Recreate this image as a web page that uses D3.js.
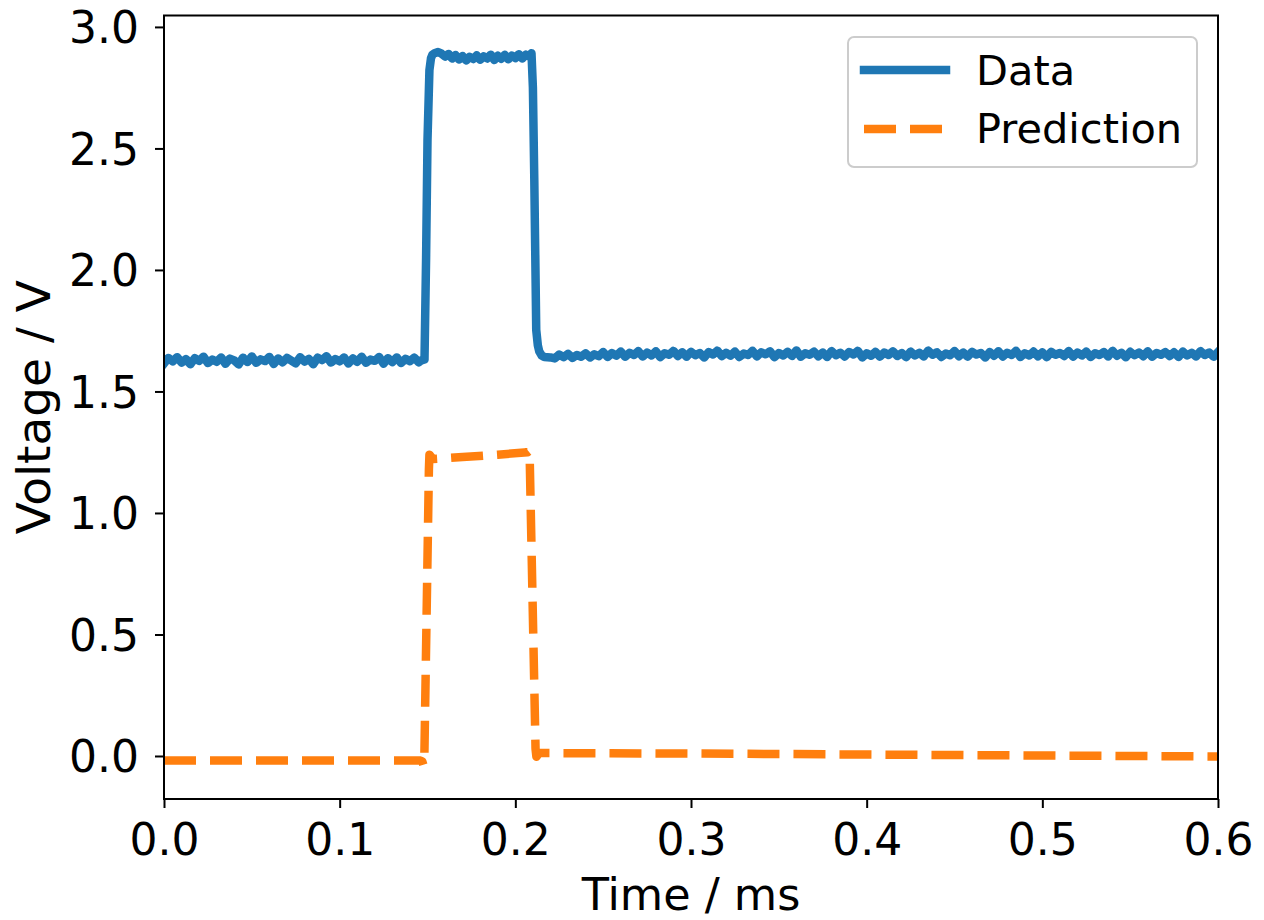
<!DOCTYPE html>
<html>
<head>
<meta charset="utf-8">
<script src="https://cdn.jsdelivr.net/npm/d3@7"></script>
<style>
  html, body { margin: 0; padding: 0; background: #fff; }
  svg { display: block; font-family: "DejaVu Sans", sans-serif; }
</style>
</head>
<body>
<svg id="chart" width="1264" height="920"></svg>
<script>
// Measured trace (time in ms, voltage in V)
const dataTime = [
  0, .0025, .005, .0075, .01, .0125, .015, .0175, .02, .0225, .025, .0275, .03, .0325, .035, .0375, .04, .0425,
  .045, .0475, .05, .0525, .055, .0575, .06, .0625, .065, .0675, .07, .0725, .075, .0775, .08, .0825, .085,
  .0875, .09, .0925, .095, .0975, .1, .1025, .105, .1075, .11, .1125, .115, .1175, .12, .1225, .125, .1275,
  .13, .1325, .135, .1375, .14, .1425, .145,
  .1465, .1483, .1492, .15, .1511, .152, .1528, .154,
  .156, .158, .16, .162, .164, .166, .168, .17, .172, .174, .176, .178, .18, .182, .184, .186, .188, .19,
  .192, .194, .196, .198, .2, .202, .204, .206, .208, .2092,
  .21, .2108, .2119, .2128, .2136, .215, .2165, .22,
  .2225, .225, .2275, .23, .2325, .235, .2375, .24, .2425, .245,
  .2475, .25, .2525, .255, .2575, .26, .2625, .265, .2675, .27,
  .2725, .275, .2775, .28, .2825, .285, .2875, .29, .2925, .295,
  .2975, .3, .3025, .305, .3075, .31, .3125, .315, .3175, .32,
  .3225, .325, .3275, .33, .3325, .335, .3375, .34, .3425, .345,
  .3475, .35, .3525, .355, .3575, .36, .3625, .365, .3675, .37,
  .3725, .375, .3775, .38, .3825, .385, .3875, .39, .3925, .395,
  .3975, .4, .4025, .405, .4075, .41, .4125, .415, .4175, .42,
  .4225, .425, .4275, .43, .4325, .435, .4375, .44, .4425, .445,
  .4475, .45, .4525, .455, .4575, .46, .4625, .465, .4675, .47,
  .4725, .475, .4775, .48, .4825, .485, .4875, .49, .4925, .495,
  .4975, .5, .5025, .505, .5075, .51, .5125, .515, .5175, .52,
  .5225, .525, .5275, .53, .5325, .535, .5375, .54, .5425, .545,
  .5475, .55, .5525, .555, .5575, .56, .5625, .565, .5675, .57,
  .5725, .575, .5775, .58, .5825, .585, .5875, .59, .5925, .595,
  .5975, .6
];
const dataVoltage = [
  1.615, 1.638, 1.624, 1.641, 1.619, 1.633, 1.612, 1.637, 1.626, 1.643,
  1.617, 1.631, 1.622, 1.640, 1.614, 1.635, 1.628, 1.611, 1.639, 1.621,
  1.644, 1.618, 1.632, 1.625, 1.642, 1.613, 1.636, 1.620, 1.638, 1.627,
  1.616, 1.641, 1.623, 1.634, 1.612, 1.639, 1.629, 1.645, 1.619, 1.633,
  1.624, 1.640, 1.615, 1.636, 1.622, 1.643, 1.618, 1.631, 1.626, 1.642,
  1.614, 1.637, 1.621, 1.640, 1.617, 1.634, 1.625, 1.639, 1.620,
  1.628, 1.632, 2.05, 2.535, 2.823, 2.872, 2.886, 2.892,
  2.897, 2.890, 2.878, 2.889, 2.870, 2.884, 2.866, 2.880, 2.862, 2.877, 2.868, 2.883, 2.865, 2.879,
  2.870, 2.886, 2.864, 2.881, 2.869, 2.885, 2.867, 2.882, 2.872, 2.888, 2.870, 2.886, 2.878, 2.892,
  2.75, 2.37, 1.753, 1.69, 1.665, 1.648, 1.642, 1.640,
  1.636, 1.652, 1.641, 1.655, 1.638, 1.650, 1.643, 1.657, 1.640, 1.653,
  1.645, 1.662, 1.642, 1.658, 1.647, 1.664, 1.643, 1.659, 1.650, 1.666,
  1.644, 1.660, 1.648, 1.665, 1.641, 1.657, 1.651, 1.667, 1.646, 1.661,
  1.643, 1.663, 1.649, 1.658, 1.640, 1.662, 1.652, 1.668, 1.645, 1.659,
  1.647, 1.664, 1.642, 1.656, 1.650, 1.667, 1.644, 1.661, 1.653, 1.665,
  1.641, 1.658, 1.648, 1.663, 1.646, 1.669, 1.643, 1.657, 1.651, 1.664,
  1.645, 1.660, 1.642, 1.666, 1.649, 1.659, 1.644, 1.662, 1.652, 1.667,
  1.640, 1.657, 1.647, 1.663, 1.643, 1.660, 1.650, 1.665, 1.646, 1.658,
  1.641, 1.664, 1.648, 1.659, 1.644, 1.668, 1.651, 1.661, 1.642, 1.656,
  1.649, 1.666, 1.645, 1.660, 1.643, 1.663, 1.652, 1.658, 1.640, 1.662,
  1.647, 1.665, 1.644, 1.659, 1.650, 1.667, 1.642, 1.657, 1.648, 1.664,
  1.645, 1.661, 1.641, 1.663, 1.651, 1.658, 1.646, 1.666, 1.643, 1.660,
  1.648, 1.664, 1.642, 1.657, 1.650, 1.662, 1.644, 1.667, 1.647, 1.659,
  1.641, 1.663, 1.649, 1.660, 1.645, 1.665, 1.643, 1.658, 1.651, 1.662,
  1.646, 1.661, 1.642, 1.664, 1.648, 1.659, 1.644, 1.666, 1.650, 1.660,
  1.643, 1.662
];

// Model prediction
const predTime = [
  0, .05, .1, .146, .147, .1478, .1482, .1508, .1511, .153, .17, .19, .207, .208,
  .2082, .2115, .212, .2135, .25, .3, .4, .5, .6
];
const predVoltage = [
  -0.019, -0.019, -0.019, -0.019, -0.022, -0.040, -0.010, 1.18, 1.24, 1.222, 1.230, 1.240, 1.250, 1.256,
  1.22, 0.03, -0.003, 0.012, 0.011, 0.010, 0.006, 0.002, -0.002
];

const xTicks = [0, 0.1, 0.2, 0.3, 0.4, 0.5, 0.6];
const yTicks = [0, 0.5, 1.0, 1.5, 2.0, 2.5, 3.0];
const seriesNames = ["Data", "Prediction"];
const seriesColors = ["#1f77b4", "#ff7f0e"];

const plot = { left: 164, right: 1218, top: 15.5, bottom: 799 };

const svg = d3.select("#chart");

const x = d3.scaleLinear().domain([0, 0.6]).range([plot.left, plot.right]);
const y = d3.scaleLinear().domain([-0.177, 3.047]).range([plot.bottom, plot.top]);

svg.append("defs").append("clipPath").attr("id", "plot-clip")
  .append("rect")
  .attr("x", plot.left).attr("y", plot.top)
  .attr("width", plot.right - plot.left).attr("height", plot.bottom - plot.top);

const line = d3.line().x(d => x(d[0])).y(d => y(d[1]));

const dataPts = dataTime.map((t, i) => [t, dataVoltage[i]]);
const predPts = predTime.map((t, i) => [t, predVoltage[i]]);

const lines = svg.append("g").attr("clip-path", "url(#plot-clip)");

lines.append("path")
  .attr("d", line(dataPts))
  .attr("fill", "none")
  .attr("stroke", seriesColors[0])
  .attr("stroke-width", 8.5)
  .attr("stroke-linejoin", "round")
  .attr("stroke-linecap", "square");

lines.append("path")
  .attr("d", line(predPts))
  .attr("fill", "none")
  .attr("stroke", seriesColors[1])
  .attr("stroke-width", 8.5)
  .attr("stroke-linejoin", "round")
  .attr("stroke-linecap", "butt")
  .attr("stroke-dasharray", "32,14");

// Axes
const fmt = d3.format(".1f");
const xAxis = d3.axisBottom(x).tickValues(xTicks).tickFormat(fmt)
  .tickSize(9).tickSizeOuter(0).tickPadding(15.5);
const yAxis = d3.axisLeft(y).tickValues(yTicks).tickFormat(fmt)
  .tickSize(9).tickSizeOuter(0).tickPadding(16);

const gx = svg.append("g").attr("transform", `translate(0,${plot.bottom})`).call(xAxis);
const gy = svg.append("g").attr("transform", `translate(${plot.left},0)`).call(yAxis);

[gx, gy].forEach(g => {
  g.select(".domain").remove();
  g.selectAll(".tick line").attr("stroke", "#000").attr("stroke-width", 2);
  g.selectAll(".tick text")
    .attr("fill", "#000")
    .style("font-family", "'DejaVu Sans', sans-serif")
    .style("font-size", "44px");
});
gy.selectAll(".tick text").attr("dy", "0.36em");

// Frame
svg.append("rect")
  .attr("x", plot.left).attr("y", plot.top)
  .attr("width", plot.right - plot.left).attr("height", plot.bottom - plot.top)
  .attr("fill", "none").attr("stroke", "#000").attr("stroke-width", 2);

// Axis titles
svg.append("text")
  .attr("x", (plot.left + plot.right) / 2).attr("y", 910)
  .attr("text-anchor", "middle")
  .style("font-size", "44.5px")
  .text("Time / ms");

svg.append("text")
  .attr("transform", `translate(50,${(plot.top + plot.bottom) / 2}) rotate(-90)`)
  .attr("text-anchor", "middle")
  .style("font-size", "47px")
  .text("Voltage / V");

// Legend
const legend = svg.append("g");
legend.append("rect")
  .attr("x", 848).attr("y", 37).attr("width", 349).attr("height", 130)
  .attr("rx", 6).attr("ry", 6)
  .attr("fill", "#fff").attr("fill-opacity", 0.8)
  .attr("stroke", "#cccccc").attr("stroke-width", 2);

const legendRows = [
  { y: 70, textY: 85, dash: null, cap: "square" },
  { y: 129, textY: 143.3, dash: "32,14", cap: "butt" }
];
legendRows.forEach((r, i) => {
  legend.append("line")
    .attr("x1", 864).attr("x2", 946).attr("y1", r.y).attr("y2", r.y)
    .attr("stroke", seriesColors[i]).attr("stroke-width", 8.5)
    .attr("stroke-linecap", r.cap)
    .attr("stroke-dasharray", r.dash);
  legend.append("text")
    .attr("x", 976).attr("y", r.textY)
    .style("font-size", "41.5px")
    .text(seriesNames[i]);
});
</script>
</body>
</html>
